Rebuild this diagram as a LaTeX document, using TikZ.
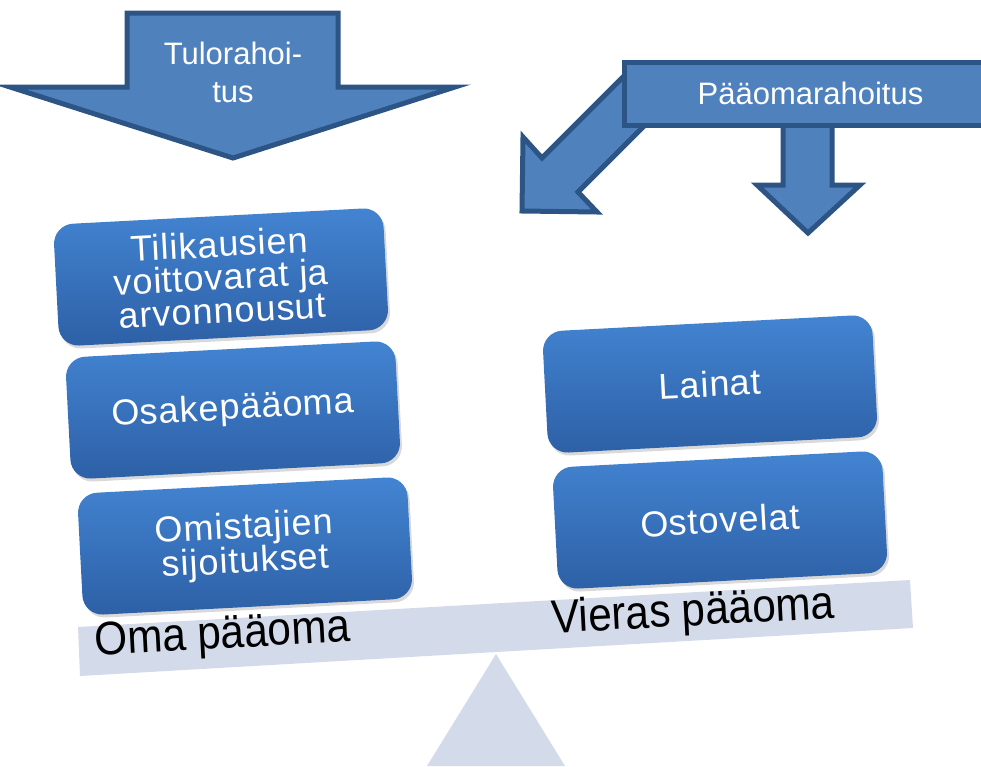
\documentclass[tikz,border=0pt]{standalone}
\usepackage{fontspec}
\setmainfont{Liberation Sans}
\newfontfamily\boxfont[LetterSpace=2.5]{Liberation Sans}
\newfontfamily\narrowfont[FakeStretch=0.9]{Liberation Sans}
\usetikzlibrary{shadows}
\definecolor{arrowfill}{HTML}{4F81BD}
\definecolor{arrowline}{HTML}{2C5586}
\definecolor{boxtop}{HTML}{4384D2}
\definecolor{boxbot}{HTML}{2D60A6}
\definecolor{beamfill}{HTML}{D3DAEA}
\begin{document}
\begin{tikzpicture}[x=1pt, y=-1pt,
        blockarrow/.style={fill=arrowfill, draw=arrowline, line width=5pt, line join=miter},
        arrowtext/.style={text=white, align=center, inner sep=0pt, font=\fontsize{31}{38}\selectfont},
        valbox/.style={rounded corners=20pt, minimum width=330pt, minimum height=122pt,
            top color=boxtop, bottom color=boxbot, text=white, align=center,
            font=\boxfont\fontsize{36}{33}\selectfont, rotate=3,
            drop shadow={opacity=0.3, shadow xshift=2pt, shadow yshift=-3pt}},
        beamlabel/.style={font=\narrowfont\fontsize{47}{47}\selectfont, rotate=3, inner sep=0pt}]
    \path[use as bounding box, clip] (0,0) rectangle (981,766);

    % the scale: beam and fulcrum
    \fill[beamfill] (496,654) -- (565,766) -- (427,766) -- cycle;
    \fill[beamfill] (78,627) -- (910,580) -- (913,628) -- (80,676) -- cycle;

    % income financing
    \draw[blockarrow] (127,13) -- (338,13) -- (338,87) -- (455,87) -- (233,158) -- (10,87) -- (127,87) -- cycle;
    \node[arrowtext] (tulo) at (233,72) {Tulorahoi-\\tus};

    % capital financing, two arrows under the box
    \draw[blockarrow] (630,70) -- (542,158) -- (523,137) -- (522,211) -- (597,212) -- (578,192) -- (670,100) -- cycle;
    \draw[blockarrow] (783,110) -- (783,185) -- (757,185) -- (808,233) -- (860,185) -- (832,185) -- (832,110) -- cycle;
    \node[blockarrow, arrowtext, minimum width=372pt, minimum height=63pt, anchor=west] (paaoma) at (622,93.5) {Pääomarahoitus};

    % own capital
    \node[valbox] (voitto) at (221,277) {Tilikausien\\voittovarat ja\\arvonnousut};
    \node[valbox] (osake) at (233,410) {Osakepääoma};
    \node[valbox] (sijoitus) at (245,546) {Omistajien\\sijoitukset};

    % borrowed capital
    \node[valbox] (laina) at (710,384) {Lainat};
    \node[valbox] (osto) at (720,520) {Ostovelat};

    \node[beamlabel, anchor=base west] (oma) at (95,655) {Oma pääoma};
    \node[beamlabel, anchor=base west] (vieras) at (552,633) {Vieras pääoma};
\end{tikzpicture}
\end{document}
